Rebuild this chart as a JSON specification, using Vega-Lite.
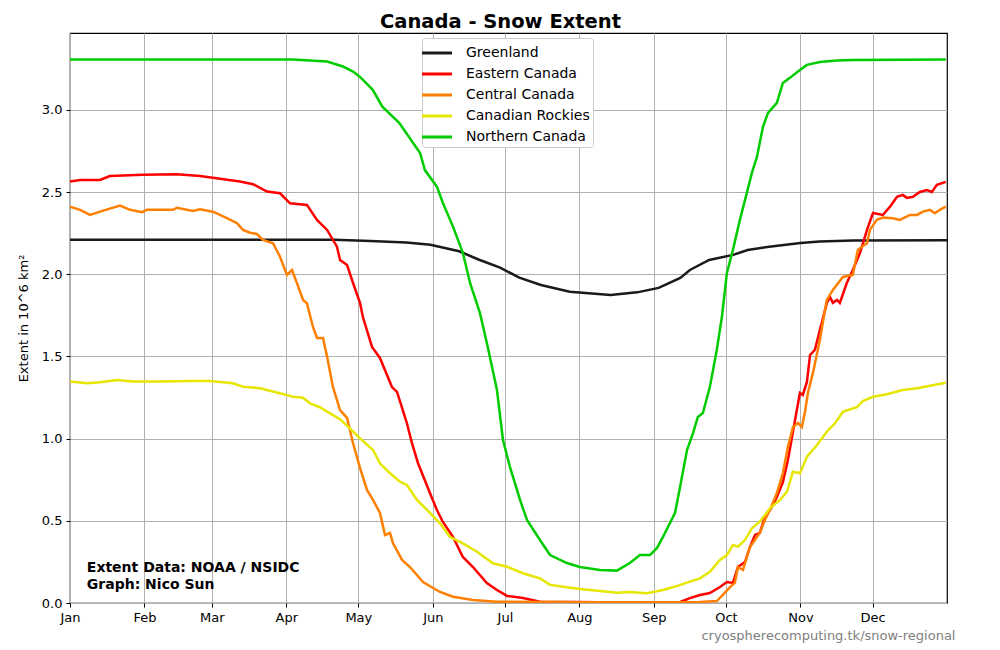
{
  "$schema": "https://vega.github.io/schema/vega-lite/v6.json",
  "autosize": "none",
  "width": 877,
  "height": 570,
  "padding": {"left": 70, "top": 33, "right": 53, "bottom": 47},
  "background": "white",
  "config": {
    "font": "DejaVu Sans",
    "view": {"stroke": "black", "strokeWidth": 1.2},
    "axis": {
      "labelFont": "DejaVu Sans", "labelFontSize": 13, "labelColor": "black",
      "titleFont": "DejaVu Sans", "titleFontSize": 13, "titleFontWeight": "normal", "titleColor": "black",
      "gridColor": "#b0b0b0", "gridWidth": 1, "gridOpacity": 1,
      "tickColor": "black", "tickSize": 4, "tickWidth": 1, "domain": false, "labelPadding": 4
    }
  },
  "title": {
    "text": "Canada - Snow Extent", "fontSize": 19.5, "fontWeight": "bold", "font": "DejaVu Sans",
    "anchor": "middle", "dx": -8, "offset": 1, "color": "black"
  },
  "datasets": {
    "snow": [
      {"r": "Greenland", "d": 0, "v": 2.21},
      {"r": "Greenland", "d": 60, "v": 2.21},
      {"r": "Greenland", "d": 110, "v": 2.21},
      {"r": "Greenland", "d": 125, "v": 2.203},
      {"r": "Greenland", "d": 140, "v": 2.194},
      {"r": "Greenland", "d": 150, "v": 2.18},
      {"r": "Greenland", "d": 162, "v": 2.14},
      {"r": "Greenland", "d": 170, "v": 2.09},
      {"r": "Greenland", "d": 179, "v": 2.04},
      {"r": "Greenland", "d": 187, "v": 1.98},
      {"r": "Greenland", "d": 196, "v": 1.935},
      {"r": "Greenland", "d": 208, "v": 1.894},
      {"r": "Greenland", "d": 225, "v": 1.874},
      {"r": "Greenland", "d": 236, "v": 1.89},
      {"r": "Greenland", "d": 245, "v": 1.917},
      {"r": "Greenland", "d": 254, "v": 1.978},
      {"r": "Greenland", "d": 258, "v": 2.026},
      {"r": "Greenland", "d": 266, "v": 2.087},
      {"r": "Greenland", "d": 276, "v": 2.118},
      {"r": "Greenland", "d": 282, "v": 2.148},
      {"r": "Greenland", "d": 291, "v": 2.168},
      {"r": "Greenland", "d": 304, "v": 2.19},
      {"r": "Greenland", "d": 312, "v": 2.199},
      {"r": "Greenland", "d": 326, "v": 2.205},
      {"r": "Greenland", "d": 365, "v": 2.207},

      {"r": "Eastern Canada", "d": 0, "v": 2.564},
      {"r": "Eastern Canada", "d": 4.2, "v": 2.574},
      {"r": "Eastern Canada", "d": 12.5, "v": 2.574},
      {"r": "Eastern Canada", "d": 16.6, "v": 2.598},
      {"r": "Eastern Canada", "d": 30.4, "v": 2.605},
      {"r": "Eastern Canada", "d": 44.5, "v": 2.609},
      {"r": "Eastern Canada", "d": 54.1, "v": 2.598},
      {"r": "Eastern Canada", "d": 59.5, "v": 2.588},
      {"r": "Eastern Canada", "d": 70.7, "v": 2.564},
      {"r": "Eastern Canada", "d": 76.2, "v": 2.548},
      {"r": "Eastern Canada", "d": 82, "v": 2.503},
      {"r": "Eastern Canada", "d": 87.4, "v": 2.493},
      {"r": "Eastern Canada", "d": 91.6, "v": 2.432},
      {"r": "Eastern Canada", "d": 98.6, "v": 2.422},
      {"r": "Eastern Canada", "d": 102.8, "v": 2.331},
      {"r": "Eastern Canada", "d": 107, "v": 2.27},
      {"r": "Eastern Canada", "d": 111.1, "v": 2.168},
      {"r": "Eastern Canada", "d": 112.4, "v": 2.087},
      {"r": "Eastern Canada", "d": 115.3, "v": 2.057},
      {"r": "Eastern Canada", "d": 117.8, "v": 1.947},
      {"r": "Eastern Canada", "d": 120.7, "v": 1.826},
      {"r": "Eastern Canada", "d": 121.9, "v": 1.74},
      {"r": "Eastern Canada", "d": 125.7, "v": 1.558},
      {"r": "Eastern Canada", "d": 129, "v": 1.491},
      {"r": "Eastern Canada", "d": 134, "v": 1.314},
      {"r": "Eastern Canada", "d": 136.1, "v": 1.284},
      {"r": "Eastern Canada", "d": 140.2, "v": 1.095},
      {"r": "Eastern Canada", "d": 142.3, "v": 0.974},
      {"r": "Eastern Canada", "d": 144.8, "v": 0.852},
      {"r": "Eastern Canada", "d": 149.8, "v": 0.669},
      {"r": "Eastern Canada", "d": 152.7, "v": 0.566},
      {"r": "Eastern Canada", "d": 155.2, "v": 0.493},
      {"r": "Eastern Canada", "d": 159.4, "v": 0.402},
      {"r": "Eastern Canada", "d": 163.5, "v": 0.28},
      {"r": "Eastern Canada", "d": 167.7, "v": 0.219},
      {"r": "Eastern Canada", "d": 173.5, "v": 0.122},
      {"r": "Eastern Canada", "d": 177.7, "v": 0.079},
      {"r": "Eastern Canada", "d": 181.9, "v": 0.043},
      {"r": "Eastern Canada", "d": 188.5, "v": 0.03},
      {"r": "Eastern Canada", "d": 195.6, "v": 0.008},
      {"r": "Eastern Canada", "d": 220, "v": 0.004},
      {"r": "Eastern Canada", "d": 254, "v": 0.006},
      {"r": "Eastern Canada", "d": 258, "v": 0.03},
      {"r": "Eastern Canada", "d": 262.2, "v": 0.049},
      {"r": "Eastern Canada", "d": 266.3, "v": 0.061},
      {"r": "Eastern Canada", "d": 270.5, "v": 0.097},
      {"r": "Eastern Canada", "d": 273.4, "v": 0.128},
      {"r": "Eastern Canada", "d": 275.9, "v": 0.122},
      {"r": "Eastern Canada", "d": 278, "v": 0.219},
      {"r": "Eastern Canada", "d": 280.9, "v": 0.249},
      {"r": "Eastern Canada", "d": 283, "v": 0.341},
      {"r": "Eastern Canada", "d": 285.1, "v": 0.414},
      {"r": "Eastern Canada", "d": 287.1, "v": 0.426},
      {"r": "Eastern Canada", "d": 289.2, "v": 0.523},
      {"r": "Eastern Canada", "d": 292.1, "v": 0.584},
      {"r": "Eastern Canada", "d": 294.2, "v": 0.645},
      {"r": "Eastern Canada", "d": 296.7, "v": 0.736},
      {"r": "Eastern Canada", "d": 298.8, "v": 0.87},
      {"r": "Eastern Canada", "d": 300.5, "v": 1.01},
      {"r": "Eastern Canada", "d": 302.5, "v": 1.174},
      {"r": "Eastern Canada", "d": 303.8, "v": 1.278},
      {"r": "Eastern Canada", "d": 305, "v": 1.266},
      {"r": "Eastern Canada", "d": 306.7, "v": 1.345},
      {"r": "Eastern Canada", "d": 308, "v": 1.509},
      {"r": "Eastern Canada", "d": 310, "v": 1.54},
      {"r": "Eastern Canada", "d": 312.1, "v": 1.661},
      {"r": "Eastern Canada", "d": 315, "v": 1.826},
      {"r": "Eastern Canada", "d": 316.3, "v": 1.862},
      {"r": "Eastern Canada", "d": 317.5, "v": 1.826},
      {"r": "Eastern Canada", "d": 319.2, "v": 1.844},
      {"r": "Eastern Canada", "d": 320.4, "v": 1.826},
      {"r": "Eastern Canada", "d": 323.3, "v": 1.947},
      {"r": "Eastern Canada", "d": 325.8, "v": 2.026},
      {"r": "Eastern Canada", "d": 328.8, "v": 2.13},
      {"r": "Eastern Canada", "d": 331.7, "v": 2.27},
      {"r": "Eastern Canada", "d": 334.2, "v": 2.373},
      {"r": "Eastern Canada", "d": 338.3, "v": 2.361},
      {"r": "Eastern Canada", "d": 341.2, "v": 2.41},
      {"r": "Eastern Canada", "d": 344.2, "v": 2.471},
      {"r": "Eastern Canada", "d": 346.6, "v": 2.483},
      {"r": "Eastern Canada", "d": 348.3, "v": 2.465},
      {"r": "Eastern Canada", "d": 350.8, "v": 2.471},
      {"r": "Eastern Canada", "d": 353.7, "v": 2.501},
      {"r": "Eastern Canada", "d": 356.6, "v": 2.513},
      {"r": "Eastern Canada", "d": 358.7, "v": 2.501},
      {"r": "Eastern Canada", "d": 360.8, "v": 2.544},
      {"r": "Eastern Canada", "d": 364.5, "v": 2.562},

      {"r": "Central Canada", "d": 0, "v": 2.412},
      {"r": "Central Canada", "d": 4.2, "v": 2.392},
      {"r": "Central Canada", "d": 8.3, "v": 2.361},
      {"r": "Central Canada", "d": 12.5, "v": 2.381},
      {"r": "Central Canada", "d": 20.8, "v": 2.418},
      {"r": "Central Canada", "d": 25, "v": 2.392},
      {"r": "Central Canada", "d": 30, "v": 2.378},
      {"r": "Central Canada", "d": 32, "v": 2.392},
      {"r": "Central Canada", "d": 42.9, "v": 2.392},
      {"r": "Central Canada", "d": 44.5, "v": 2.405},
      {"r": "Central Canada", "d": 51.2, "v": 2.385},
      {"r": "Central Canada", "d": 54.1, "v": 2.396},
      {"r": "Central Canada", "d": 59.5, "v": 2.381},
      {"r": "Central Canada", "d": 65.3, "v": 2.341},
      {"r": "Central Canada", "d": 69.5, "v": 2.311},
      {"r": "Central Canada", "d": 72, "v": 2.27},
      {"r": "Central Canada", "d": 74.9, "v": 2.253},
      {"r": "Central Canada", "d": 77.8, "v": 2.245},
      {"r": "Central Canada", "d": 80.3, "v": 2.209},
      {"r": "Central Canada", "d": 84.5, "v": 2.189},
      {"r": "Central Canada", "d": 87.4, "v": 2.107},
      {"r": "Central Canada", "d": 90.3, "v": 1.996},
      {"r": "Central Canada", "d": 92.4, "v": 2.026},
      {"r": "Central Canada", "d": 94.5, "v": 1.945},
      {"r": "Central Canada", "d": 97, "v": 1.844},
      {"r": "Central Canada", "d": 98.6, "v": 1.824},
      {"r": "Central Canada", "d": 101.1, "v": 1.681},
      {"r": "Central Canada", "d": 102.8, "v": 1.613},
      {"r": "Central Canada", "d": 105.3, "v": 1.613},
      {"r": "Central Canada", "d": 107, "v": 1.499},
      {"r": "Central Canada", "d": 109.4, "v": 1.316},
      {"r": "Central Canada", "d": 112.4, "v": 1.174},
      {"r": "Central Canada", "d": 115.3, "v": 1.126},
      {"r": "Central Canada", "d": 117.8, "v": 0.972},
      {"r": "Central Canada", "d": 120.7, "v": 0.822},
      {"r": "Central Canada", "d": 123.6, "v": 0.688},
      {"r": "Central Canada", "d": 126.1, "v": 0.627},
      {"r": "Central Canada", "d": 129, "v": 0.548},
      {"r": "Central Canada", "d": 131.1, "v": 0.414},
      {"r": "Central Canada", "d": 133.2, "v": 0.426},
      {"r": "Central Canada", "d": 134.4, "v": 0.365},
      {"r": "Central Canada", "d": 138.2, "v": 0.262},
      {"r": "Central Canada", "d": 141.5, "v": 0.219},
      {"r": "Central Canada", "d": 146.9, "v": 0.128},
      {"r": "Central Canada", "d": 154, "v": 0.067},
      {"r": "Central Canada", "d": 159.4, "v": 0.038},
      {"r": "Central Canada", "d": 167.7, "v": 0.018},
      {"r": "Central Canada", "d": 177.7, "v": 0.008},
      {"r": "Central Canada", "d": 220, "v": 0.004},
      {"r": "Central Canada", "d": 262, "v": 0.006},
      {"r": "Central Canada", "d": 269.2, "v": 0.012},
      {"r": "Central Canada", "d": 271.7, "v": 0.049},
      {"r": "Central Canada", "d": 274.7, "v": 0.097},
      {"r": "Central Canada", "d": 276.7, "v": 0.122},
      {"r": "Central Canada", "d": 278, "v": 0.219},
      {"r": "Central Canada", "d": 280.1, "v": 0.201},
      {"r": "Central Canada", "d": 283, "v": 0.341},
      {"r": "Central Canada", "d": 287.1, "v": 0.426},
      {"r": "Central Canada", "d": 289.2, "v": 0.505},
      {"r": "Central Canada", "d": 291.3, "v": 0.566},
      {"r": "Central Canada", "d": 294.2, "v": 0.669},
      {"r": "Central Canada", "d": 296.7, "v": 0.791},
      {"r": "Central Canada", "d": 298.8, "v": 0.949},
      {"r": "Central Canada", "d": 300.9, "v": 1.071},
      {"r": "Central Canada", "d": 303, "v": 1.095},
      {"r": "Central Canada", "d": 304.6, "v": 1.071},
      {"r": "Central Canada", "d": 305.9, "v": 1.162},
      {"r": "Central Canada", "d": 307.1, "v": 1.278},
      {"r": "Central Canada", "d": 309.2, "v": 1.4},
      {"r": "Central Canada", "d": 312.1, "v": 1.6},
      {"r": "Central Canada", "d": 314.2, "v": 1.783},
      {"r": "Central Canada", "d": 315, "v": 1.844},
      {"r": "Central Canada", "d": 317.5, "v": 1.905},
      {"r": "Central Canada", "d": 321.7, "v": 1.984},
      {"r": "Central Canada", "d": 325.8, "v": 1.996},
      {"r": "Central Canada", "d": 327.9, "v": 2.148},
      {"r": "Central Canada", "d": 330, "v": 2.172},
      {"r": "Central Canada", "d": 331.7, "v": 2.189},
      {"r": "Central Canada", "d": 332.9, "v": 2.27},
      {"r": "Central Canada", "d": 335.8, "v": 2.331},
      {"r": "Central Canada", "d": 338.3, "v": 2.345},
      {"r": "Central Canada", "d": 342.5, "v": 2.341},
      {"r": "Central Canada", "d": 345.4, "v": 2.331},
      {"r": "Central Canada", "d": 349.6, "v": 2.361},
      {"r": "Central Canada", "d": 352.5, "v": 2.361},
      {"r": "Central Canada", "d": 355, "v": 2.381},
      {"r": "Central Canada", "d": 357.9, "v": 2.392},
      {"r": "Central Canada", "d": 360, "v": 2.371},
      {"r": "Central Canada", "d": 362, "v": 2.392},
      {"r": "Central Canada", "d": 364.5, "v": 2.412},

      {"r": "Canadian Rockies", "d": 0, "v": 1.347},
      {"r": "Canadian Rockies", "d": 7.1, "v": 1.337},
      {"r": "Canadian Rockies", "d": 12.5, "v": 1.343},
      {"r": "Canadian Rockies", "d": 19.6, "v": 1.357},
      {"r": "Canadian Rockies", "d": 26.2, "v": 1.347},
      {"r": "Canadian Rockies", "d": 37.5, "v": 1.347},
      {"r": "Canadian Rockies", "d": 51.2, "v": 1.351},
      {"r": "Canadian Rockies", "d": 58.3, "v": 1.351},
      {"r": "Canadian Rockies", "d": 67.8, "v": 1.337},
      {"r": "Canadian Rockies", "d": 72, "v": 1.316},
      {"r": "Canadian Rockies", "d": 79.1, "v": 1.307},
      {"r": "Canadian Rockies", "d": 87.4, "v": 1.276},
      {"r": "Canadian Rockies", "d": 92.8, "v": 1.255},
      {"r": "Canadian Rockies", "d": 97, "v": 1.249},
      {"r": "Canadian Rockies", "d": 99.9, "v": 1.215},
      {"r": "Canadian Rockies", "d": 104, "v": 1.191},
      {"r": "Canadian Rockies", "d": 108.2, "v": 1.154},
      {"r": "Canadian Rockies", "d": 112.4, "v": 1.118},
      {"r": "Canadian Rockies", "d": 116.5, "v": 1.063},
      {"r": "Canadian Rockies", "d": 120.7, "v": 1.002},
      {"r": "Canadian Rockies", "d": 126.1, "v": 0.931},
      {"r": "Canadian Rockies", "d": 129, "v": 0.85},
      {"r": "Canadian Rockies", "d": 133.2, "v": 0.789},
      {"r": "Canadian Rockies", "d": 137.3, "v": 0.738},
      {"r": "Canadian Rockies", "d": 140.2, "v": 0.718},
      {"r": "Canadian Rockies", "d": 144.4, "v": 0.627},
      {"r": "Canadian Rockies", "d": 148.6, "v": 0.566},
      {"r": "Canadian Rockies", "d": 154, "v": 0.485},
      {"r": "Canadian Rockies", "d": 158.1, "v": 0.403},
      {"r": "Canadian Rockies", "d": 163.5, "v": 0.363},
      {"r": "Canadian Rockies", "d": 169.4, "v": 0.312},
      {"r": "Canadian Rockies", "d": 176, "v": 0.242},
      {"r": "Canadian Rockies", "d": 181.9, "v": 0.221},
      {"r": "Canadian Rockies", "d": 188.5, "v": 0.181},
      {"r": "Canadian Rockies", "d": 195.6, "v": 0.15},
      {"r": "Canadian Rockies", "d": 199.8, "v": 0.11},
      {"r": "Canadian Rockies", "d": 206.8, "v": 0.096},
      {"r": "Canadian Rockies", "d": 212.2, "v": 0.085},
      {"r": "Canadian Rockies", "d": 220.6, "v": 0.073},
      {"r": "Canadian Rockies", "d": 227.6, "v": 0.063},
      {"r": "Canadian Rockies", "d": 233, "v": 0.067},
      {"r": "Canadian Rockies", "d": 240.1, "v": 0.059},
      {"r": "Canadian Rockies", "d": 246.8, "v": 0.079},
      {"r": "Canadian Rockies", "d": 252.6, "v": 0.103},
      {"r": "Canadian Rockies", "d": 258, "v": 0.13},
      {"r": "Canadian Rockies", "d": 262.2, "v": 0.15},
      {"r": "Canadian Rockies", "d": 266.3, "v": 0.19},
      {"r": "Canadian Rockies", "d": 270.5, "v": 0.262},
      {"r": "Canadian Rockies", "d": 273.4, "v": 0.292},
      {"r": "Canadian Rockies", "d": 275.9, "v": 0.353},
      {"r": "Canadian Rockies", "d": 278, "v": 0.343},
      {"r": "Canadian Rockies", "d": 280.9, "v": 0.383},
      {"r": "Canadian Rockies", "d": 283.8, "v": 0.455},
      {"r": "Canadian Rockies", "d": 287.1, "v": 0.495},
      {"r": "Canadian Rockies", "d": 291.3, "v": 0.576},
      {"r": "Canadian Rockies", "d": 295.5, "v": 0.627},
      {"r": "Canadian Rockies", "d": 298.4, "v": 0.677},
      {"r": "Canadian Rockies", "d": 300.9, "v": 0.799},
      {"r": "Canadian Rockies", "d": 303.8, "v": 0.789},
      {"r": "Canadian Rockies", "d": 306.7, "v": 0.89},
      {"r": "Canadian Rockies", "d": 310.9, "v": 0.961},
      {"r": "Canadian Rockies", "d": 315, "v": 1.042},
      {"r": "Canadian Rockies", "d": 318.4, "v": 1.094},
      {"r": "Canadian Rockies", "d": 321.7, "v": 1.164},
      {"r": "Canadian Rockies", "d": 327.5, "v": 1.191},
      {"r": "Canadian Rockies", "d": 330, "v": 1.229},
      {"r": "Canadian Rockies", "d": 334.2, "v": 1.255},
      {"r": "Canadian Rockies", "d": 340, "v": 1.27},
      {"r": "Canadian Rockies", "d": 346.6, "v": 1.296},
      {"r": "Canadian Rockies", "d": 352.5, "v": 1.307},
      {"r": "Canadian Rockies", "d": 357.9, "v": 1.322},
      {"r": "Canadian Rockies", "d": 364.5, "v": 1.34},

      {"r": "Northern Canada", "d": 0, "v": 3.307},
      {"r": "Northern Canada", "d": 92.8, "v": 3.307},
      {"r": "Northern Canada", "d": 107, "v": 3.294},
      {"r": "Northern Canada", "d": 113.6, "v": 3.264},
      {"r": "Northern Canada", "d": 117.8, "v": 3.233},
      {"r": "Northern Canada", "d": 120.7, "v": 3.201},
      {"r": "Northern Canada", "d": 126, "v": 3.122},
      {"r": "Northern Canada", "d": 130, "v": 3.02},
      {"r": "Northern Canada", "d": 137, "v": 2.921},
      {"r": "Northern Canada", "d": 145.7, "v": 2.738},
      {"r": "Northern Canada", "d": 147.7, "v": 2.634},
      {"r": "Northern Canada", "d": 152.7, "v": 2.533},
      {"r": "Northern Canada", "d": 155.2, "v": 2.434},
      {"r": "Northern Canada", "d": 159.4, "v": 2.29},
      {"r": "Northern Canada", "d": 163.5, "v": 2.13},
      {"r": "Northern Canada", "d": 166.5, "v": 1.947},
      {"r": "Northern Canada", "d": 170.6, "v": 1.765},
      {"r": "Northern Canada", "d": 173.5, "v": 1.582},
      {"r": "Northern Canada", "d": 177.7, "v": 1.296},
      {"r": "Northern Canada", "d": 180.2, "v": 0.992},
      {"r": "Northern Canada", "d": 183.1, "v": 0.828},
      {"r": "Northern Canada", "d": 187.3, "v": 0.627},
      {"r": "Northern Canada", "d": 190.2, "v": 0.505},
      {"r": "Northern Canada", "d": 195.6, "v": 0.383},
      {"r": "Northern Canada", "d": 199.8, "v": 0.292},
      {"r": "Northern Canada", "d": 206.8, "v": 0.243},
      {"r": "Northern Canada", "d": 212.2, "v": 0.219},
      {"r": "Northern Canada", "d": 220.6, "v": 0.201},
      {"r": "Northern Canada", "d": 227.6, "v": 0.197},
      {"r": "Northern Canada", "d": 233, "v": 0.243},
      {"r": "Northern Canada", "d": 237.2, "v": 0.292},
      {"r": "Northern Canada", "d": 241.4, "v": 0.292},
      {"r": "Northern Canada", "d": 244.3, "v": 0.335},
      {"r": "Northern Canada", "d": 246.8, "v": 0.402},
      {"r": "Northern Canada", "d": 249.7, "v": 0.487},
      {"r": "Northern Canada", "d": 251.8, "v": 0.548},
      {"r": "Northern Canada", "d": 253.9, "v": 0.706},
      {"r": "Northern Canada", "d": 256.8, "v": 0.931},
      {"r": "Northern Canada", "d": 259.3, "v": 1.034},
      {"r": "Northern Canada", "d": 261.3, "v": 1.132},
      {"r": "Northern Canada", "d": 263.4, "v": 1.156},
      {"r": "Northern Canada", "d": 266.3, "v": 1.314},
      {"r": "Northern Canada", "d": 269.2, "v": 1.54},
      {"r": "Northern Canada", "d": 271.3, "v": 1.74},
      {"r": "Northern Canada", "d": 273.4, "v": 2.008},
      {"r": "Northern Canada", "d": 275.9, "v": 2.148},
      {"r": "Northern Canada", "d": 278.8, "v": 2.331},
      {"r": "Northern Canada", "d": 281.7, "v": 2.495},
      {"r": "Northern Canada", "d": 283.8, "v": 2.617},
      {"r": "Northern Canada", "d": 285.9, "v": 2.714},
      {"r": "Northern Canada", "d": 288.4, "v": 2.897},
      {"r": "Northern Canada", "d": 290.5, "v": 2.982},
      {"r": "Northern Canada", "d": 294.2, "v": 3.043},
      {"r": "Northern Canada", "d": 296.7, "v": 3.164},
      {"r": "Northern Canada", "d": 299.6, "v": 3.195},
      {"r": "Northern Canada", "d": 303.8, "v": 3.243},
      {"r": "Northern Canada", "d": 306.7, "v": 3.274},
      {"r": "Northern Canada", "d": 312.1, "v": 3.292},
      {"r": "Northern Canada", "d": 319.2, "v": 3.3},
      {"r": "Northern Canada", "d": 325.8, "v": 3.304},
      {"r": "Northern Canada", "d": 364.5, "v": 3.307}
    ],
    "notes": [
      {"d": 7, "v": 0.19, "t": "Extent Data: NOAA / NSIDC"},
      {"d": 7, "v": 0.088, "t": "Graph: Nico Sun"}
    ]
  },
  "layer": [
    {
      "data": {"name": "snow"},
      "mark": {"type": "line", "strokeWidth": 2.5, "clip": true},
      "encoding": {
        "x": {
          "field": "d", "type": "quantitative",
          "scale": {"domain": [0, 365], "nice": false, "zero": false},
          "axis": {
            "values": [0, 31, 59, 90, 120, 151, 181, 212, 243, 273, 304, 334],
            "labelExpr": "['Jan','Feb','Mar','Apr','May','Jun','Jul','Aug','Sep','Oct','Nov','Dec'][indexof([0,31,59,90,120,151,181,212,243,273,304,334], datum.value)]",
            "labelFlush": false,
            "labelOverlap": false,
            "title": "cryospherecomputing.tk/snow-regional",
            "titleColor": "#808080",
            "titleAnchor": "end",
            "titleAlign": "right",
            "titleX": 885,
            "titleY": 36,
            "titleBaseline": "alphabetic"
          }
        },
        "y": {
          "field": "v", "type": "quantitative",
          "scale": {"domain": [0, 3.468], "nice": false},
          "axis": {
            "values": [0, 0.5, 1, 1.5, 2, 2.5, 3],
            "format": ".1f",
            "title": "Extent in 10^6 km²",
            "titlePadding": 11
          }
        },
        "color": {
          "field": "r", "type": "nominal",
          "scale": {
            "domain": ["Greenland", "Eastern Canada", "Central Canada", "Canadian Rockies", "Northern Canada"],
            "range": ["#1a1a1a", "#ff0000", "#ff8000", "#e6e600", "#00cc00"]
          },
          "legend": {
            "title": null,
            "orient": "none",
            "legendX": 352,
            "legendY": 5,
            "symbolType": "M-1.43,0H1.43",
            "symbolSize": 441,
            "symbolStrokeWidth": 3,
            "labelFontSize": 14,
            "labelFont": "DejaVu Sans",
            "labelColor": "black",
            "rowPadding": 2,
            "fillColor": "white",
            "strokeColor": "#cccccc",
            "cornerRadius": 3,
            "padding": 3,
            "labelOffset": 17
          }
        },
        "order": {"field": "d", "type": "quantitative"}
      }
    },
    {
      "data": {"name": "notes"},
      "mark": {"type": "text", "align": "left", "baseline": "alphabetic", "fontSize": 14, "fontWeight": "bold", "font": "DejaVu Sans", "color": "black"},
      "encoding": {
        "x": {"field": "d", "type": "quantitative"},
        "y": {"field": "v", "type": "quantitative"},
        "text": {"field": "t"}
      }
    }
  ]
}
